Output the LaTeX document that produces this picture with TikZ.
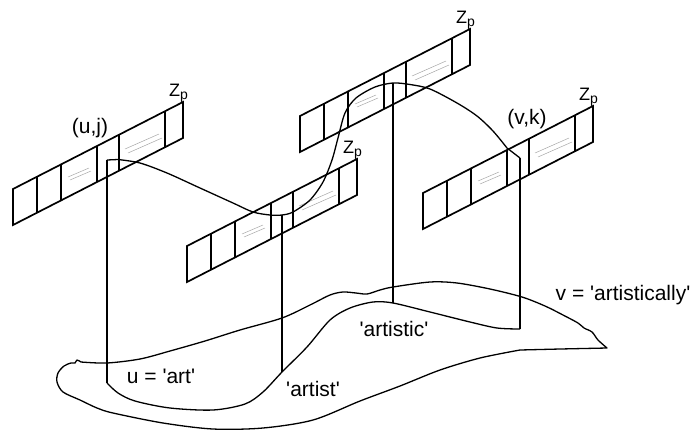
\documentclass[tikz,border=0pt]{standalone}
\usepackage{fontspec}
\setmainfont{Liberation Sans}[Ligatures=TeXOff]
\begin{document}
\begin{tikzpicture}[x=1pt,y=-1pt,
  strip/.style={line width=1.7pt, line join=miter},
  hatch/.style={black!35, line width=0.5pt},
  wire/.style={line width=1.3pt, line join=round},
  lbl/.style={font=\fontsize{21}{24}\selectfont, inner sep=0pt, anchor=base},
  zp/.style={inner sep=0pt, anchor=base west}]
\useasboundingbox (0,0) rectangle (696,432);

% strips (memory cells)
\foreach \sx/\sy/\nm in {13/189/s1, 187/246/s2, 300/116/s3, 423/193/s4}{
  \coordinate (\nm-lt) at (\sx,\sy);
  \coordinate (\nm-rt) at ({\sx+170},{\sy-87});
  \draw[strip] (\nm-lt) -- (\nm-rt) -- ++(0,36) -- ({\sx},{\sy+36}) -- cycle;
  \foreach \d in {24,48,84,106,152}
    \draw[strip] ({\sx+\d},{\sy-\d*87/170}) -- ++(0,36);
  % hatching in two cells
  \draw[hatch] ({\sx+55},{\sy-12}) -- ({\sx+76},{\sy-21});
  \draw[hatch] ({\sx+57},{\sy-9}) -- ({\sx+78},{\sy-18});
  \draw[hatch] ({\sx+112},{\sy-40}) -- ({\sx+146},{\sy-55});
  \draw[hatch] ({\sx+115},{\sy-36}) -- ({\sx+149},{\sy-51});
  \node[zp] (\nm-z) at ({\sx+156},{\sy-93})
    {\fontsize{18}{18}\selectfont Z\raisebox{-3pt}{\fontsize{14}{14}\selectfont p}};
}

% vertical lines
\coordinate (v1t) at (107,160); \coordinate (v1b) at (107,383);
\coordinate (v2t) at (282,215); \coordinate (v2b) at (282,372);
\coordinate (v3t) at (393,83);  \coordinate (v3b) at (393,303);
\coordinate (v4t) at (520,158); \coordinate (v4b) at (520,329);
\draw[wire] (v1t) -- (v1b);
\draw[wire] (v2t) -- (v2b);
\draw[wire] (v3t) -- (v3b);
\draw[wire] (v4t) -- (v4b);

% top curve
\draw[wire] (v1t) -- plot[smooth, tension=0.5] coordinates {(118,159.5) (140,163) (167,173) (200,188) (233,203) (253,212) (270,215) (282,215) (293,212) (310,200) (323,182) (332,160) (338,138) (345,113) (356,98) (375,87) (393,83) (410,84.5) (430,89) (457,103) (477,116) (493,131) (507,148)} -- (v4t);

% bottom path curve
\draw[wire] plot[smooth, tension=0.5] coordinates {(107,383) (118,393) (135,401) (170,408) (213,410) (245,404) (263,392) (282,372) (307,347) (330,320) (350,308) (373,302) (393,303) (430,312) (470,322) (497,328) (520,329)};

% blob outline
\draw[wire] plot[smooth, tension=0.5] coordinates {(81,362) (107,363) (140,359) (170,351) (205,341) (240,330) (282,318) (310,305) (330,295) (343,292) (356,293) (367,294) (380,290) (393,287) (430,282) (457,283) (490,289) (522,297) (545,306) (563,315) (578,323) (584,328) (592,332) (598,340) (607,348)}
  -- (560,349)
  -- plot[smooth, tension=0.5] coordinates {(520,350) (480,358) (440,370) (400,386) (360,401) (313,420) (263,428) (213,429) (163,423) (113,413) (97,408) (80,400) (63,392) (57,382) (58,373) (64,366) (71,363) (75,363) (77,360) (81,362)};

% labels
\node[lbl] (uj) at (90,133) {(u,j)};
\node[lbl] (vk) at (527,124) {(v,k)};
\node[lbl] (uart) at (161,383) {u = 'art'};
\node[lbl] (artist) at (313,396) {'artist'};
\node[lbl] (artistic) at (394,336) {'artistic'};
\node[lbl] (vart) at (623,300) {v = 'artistically'};
\end{tikzpicture}
\end{document}
